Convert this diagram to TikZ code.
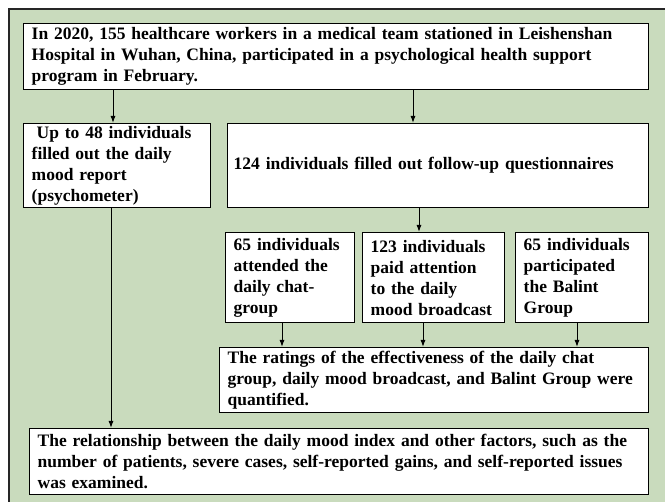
\documentclass[tikz,border=0pt]{standalone}
\usepackage{fontspec}
\setmainfont{Liberation Serif}
\usetikzlibrary{arrows.meta}
\definecolor{bggreen}{RGB}{201,219,189}
\begin{document}
\begin{tikzpicture}[x=1pt,y=-1pt,
  box/.style={draw=black, line width=1.4pt, fill=white, anchor=north west,
    inner xsep=8pt, inner ysep=0pt, align=left,
    font=\fontsize{17.5}{21}\selectfont\bfseries},
  arr/.style={line width=1pt, -{Latex[length=7pt,width=5pt]}}]
\useasboundingbox (0,0) rectangle (665,502);
\fill[white] (0,0) rectangle (665,502);
\begin{scope}
  \clip (0,0) rectangle (665,502);
  \draw[fill=bggreen, line width=1.5pt, draw=black!85] (9,9) rectangle (690,530);
\end{scope}
% columns for connectors
\coordinate (cA) at (113,0);
\coordinate (cB) at (413,0);
\coordinate (cC) at (419,0);
\coordinate (cD) at (282,0);
\coordinate (cE) at (423,0);
\coordinate (cF) at (577,0);
\coordinate (cG) at (111,0);
% boxes
\node[box, text width=609pt, minimum height=66pt] (b1) at (23,23)
  {In 2020, 155 healthcare workers in a medical team stationed in Leishenshan\\
   Hospital in Wuhan, China, participated in a psychological health support\\
   program in February.};
\node[box, text width=171pt, minimum height=84pt] (b2) at (23,123)
  {\hspace*{5pt}Up to 48 individuals\\ filled out the daily\\ mood report\\ (psychometer)};
\node[box, inner xsep=6pt, text width=409pt, minimum height=84pt] (b3) at (227,123)
  {124 individuals filled out follow-up questionnaires};
\node[box, text width=113pt, minimum height=90pt] (sA) at (225,232)
  {65 individuals\\ attended the\\ daily chat-\\ group};
\node[box, text width=126pt, minimum height=90pt] (sB) at (362,232)
  {123 individuals\\ paid attention\\ to the daily\\ mood broadcast};
\node[box, text width=117pt, minimum height=90pt] (sC) at (515,232)
  {65 individuals\\ participated\\ the Balint\\ Group};
\node[box, text width=413pt, minimum height=65pt] (rt) at (219,347)
  {The ratings of the effectiveness of the daily chat\\
   group, daily mood broadcast, and Balint Group were\\
   quantified.};
\node[box, text width=603pt, minimum height=66pt] (fn) at (29,428)
  {The relationship between the daily mood index and other factors, such as the\\
   number of patients, severe cases, self-reported gains, and self-reported issues\\
   was examined.};
% connectors
\draw[arr] (b1.south -| cA) -- (b2.north -| cA);
\draw[arr] (b1.south -| cB) -- (b3.north -| cB);
\draw[arr] (b3.south -| cC) -- (sB.north -| cC);
\draw[arr] (sA.south -| cD) -- (rt.north -| cD);
\draw[arr] (sB.south -| cE) -- (rt.north -| cE);
\draw[arr] (sC.south -| cF) -- (rt.north -| cF);
\draw[arr] (b2.south -| cG) -- (fn.north -| cG);
\end{tikzpicture}
\end{document}
